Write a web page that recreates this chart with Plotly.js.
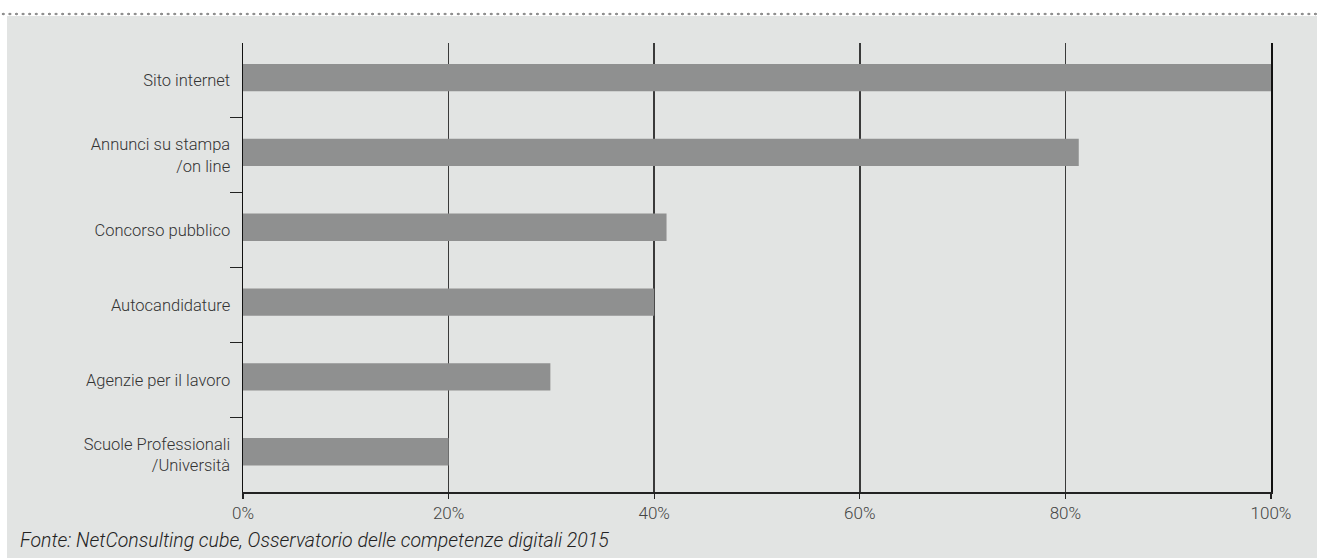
<!DOCTYPE html>
<html>
<head>
<meta charset="utf-8">
<script src="https://cdn.plot.ly/plotly-3.0.1.min.js"></script>
<style>
  html, body { margin: 0; padding: 0; background: #ffffff; width: 1317px; height: 558px; overflow: hidden; }
  #dots { position: absolute; left: 0; top: 12px; width: 1317px; height: 4px;
    background-image: radial-gradient(circle, #8f8f8f 1.2px, transparent 1.6px);
    background-size: 6.6px 4px; background-repeat: repeat-x; }
  #chart { position: absolute; left: 7px; top: 16px; width: 1310px; height: 542px; }
</style>
</head>
<body>
<div id="dots"></div>
<div id="chart"></div>
<script>
const categories = ["Sito internet", "Annunci su stampa<br>/on line", "Concorso pubblico", "Autocandidature", "Agenzie per il lavoro", "Scuole Professionali<br>/Università"];
const values = [100, 81.3, 41.2, 40.0, 29.9, 20.0];
const xTickVals = [0, 20, 40, 60, 80, 100];
const xTickText = ["0%", "20%", "40%", "60%", "80%", "100%"];
const caption = "Fonte: NetConsulting cube, Osservatorio delle competenze digitali 2015";

// boundaries between categories (for the small separator ticks on the y axis)
const boundaryTicks = categories.slice(1).map((c, i) => i + 0.5);

const trace = {
  type: "bar",
  orientation: "h",
  x: values,
  y: categories,
  width: 0.365,
  offset: -0.22,
  marker: { color: "#8f9090", line: { width: 0 } },
  hoverinfo: "x+y"
};

// invisible helper trace to activate the second y axis (separator ticks)
const helper = {
  type: "scatter",
  mode: "none",
  x: [],
  y: [],
  yaxis: "y2",
  hoverinfo: "skip"
};

const layout = {
  width: 1310, height: 542,
  margin: { l: 236, r: 46, t: 27, b: 66 },
  paper_bgcolor: "#e2e4e3",
  plot_bgcolor: "rgba(0,0,0,0)",
  showlegend: false,
  font: { family: "Roboto, sans-serif", color: "#333333" },
  xaxis: {
    range: [0, 100],
    tickvals: xTickVals,
    ticktext: xTickText,
    showgrid: true,
    gridcolor: "#3a3a3a",
    gridwidth: 1.5,
    zeroline: false,
    showline: true,
    linecolor: "#222222",
    linewidth: 1.5,
    ticks: "outside",
    ticklen: 5,
    tickwidth: 1.2,
    tickcolor: "#222222",
    tickfont: { size: 17, color: "#444444", family: "Roboto, sans-serif", weight: 300 },
    fixedrange: true
  },
  yaxis: {
    type: "category",
    range: [categories.length - 0.5, -0.5],
    showgrid: false,
    zeroline: false,
    showline: true,
    mirror: true,
    linecolor: "#111111",
    linewidth: 1.5,
    ticks: "",
    ticklabelstandoff: 8,
    tickfont: { size: 16.5, color: "#333333", family: "Roboto, sans-serif", weight: 300 },
    fixedrange: true
  },
  yaxis2: {
    overlaying: "y",
    side: "left",
    type: "linear",
    range: [categories.length - 0.5, -0.5],
    tickvals: boundaryTicks,
    showticklabels: false,
    showgrid: false,
    zeroline: false,
    showline: false,
    ticks: "outside",
    ticklen: 12,
    tickwidth: 1.2,
    tickcolor: "#222222",
    fixedrange: true
  },
  annotations: [{
    text: caption,
    xref: "paper", yref: "paper",
    x: -225 / 1028, y: -0.107,
    xanchor: "left", yanchor: "middle",
    showarrow: false,
    font: { size: 19.5, color: "#222222", family: "Roboto, sans-serif", style: "italic", weight: 300 }
  }]
};

Plotly.newPlot("chart", [trace, helper], layout, { displayModeBar: false, staticPlot: true });
</script>
</body>
</html>
